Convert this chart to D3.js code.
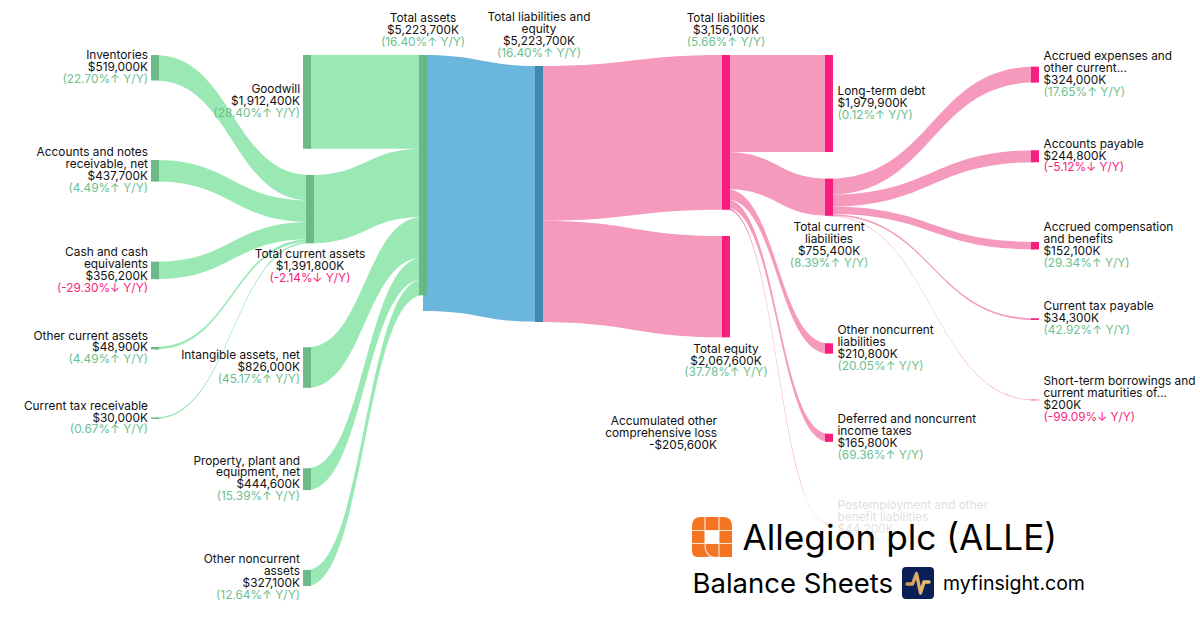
<!DOCTYPE html>
<html>
<head>
<meta charset="utf-8">
<script src="https://cdn.jsdelivr.net/npm/d3@7"></script>
<style>
  html, body { margin: 0; padding: 0; background: #fff; }
  svg { display: block; font-family: Inter, sans-serif; }
</style>
</head>
<body>
<div id="chart"></div>
<script>
// node data, $K, one entry per node ("|" breaks a label line)
const names = [
  "Inventories", "Accounts and notes|receivable, net", "Cash and cash|equivalents", "Other current assets", "Current tax receivable",
  "Goodwill", "Intangible assets, net", "Property, plant and|equipment, net", "Other noncurrent|assets",
  "Total current assets",
  "Total assets",
  "Total liabilities and|equity",
  "Total liabilities", "Total equity", "Accumulated other|comprehensive loss",
  "Long-term debt", "Total current|liabilities", "Other noncurrent|liabilities", "Deferred and noncurrent|income taxes", "Postemployment and other|benefit liabilities",
  "Accrued expenses and|other current...", "Accounts payable", "Accrued compensation|and benefits", "Current tax payable", "Short-term borrowings and|current maturities of..."
];
const values = [
  519000, 437700, 356200, 48900, 30000,
  1912400, 826000, 444600, 327100,
  1391800,
  5223700,
  5223700,
  3156100, 2067600, -205600,
  1979900, 755400, 210800, 165800, 44200,
  324000, 244800, 152100, 34300, 200
];
const changes = [
  22.70, 4.49, -29.30, 4.49, 0.67,
  28.40, 45.17, 15.39, 12.64,
  -2.14,
  16.40,
  16.40,
  5.66, 37.78, null,
  0.12, 8.39, 20.05, 69.36, 13.04,
  17.65, -5.12, 29.34, 42.92, -99.09
];
const columns = [
  "c0", "c0", "c0", "c0", "c0",
  "c1", "c1", "c1", "c1",
  "c1b",
  "c2",
  "c3",
  "c4", "c4", "c4",
  "c5", "c5", "c5", "c5", "c5",
  "c6", "c6", "c6", "c6", "c6"
];
const groups = [
  "g", "g", "g", "g", "g",
  "g", "g", "g", "g",
  "g",
  "g",
  "b",
  "p", "p", "p",
  "p", "p", "p", "p", "p",
  "p", "p", "p", "p", "p"
];
const labelSides = [
  "left", "left", "left", "left", "left",
  "left", "left", "left", "left",
  "bottom",
  "top",
  "top",
  "top", "bottom", "left",
  "right", "bottom", "right", "right", "right",
  "right", "right", "right", "right", "right"
];

// links as node indexes, value is what the ribbon carries
const linkSources = [0, 1, 2, 3, 4, 5, 9, 6, 7, 8, 10, 11, 11, 12, 12, 12, 12, 12, 16, 16, 16, 16, 16];
const linkTargets = [9, 9, 9, 9, 9, 10, 10, 10, 10, 10, 11, 12, 13, 15, 16, 17, 18, 19, 20, 21, 22, 23, 24];
const linkValues = [
  519000, 437700, 356200, 48900, 30000,
  1912400, 1391800, 826000, 444600, 327100,
  5223700,
  3156100, 2067600,
  1979900, 755400, 210800, 165800, 44200,
  324000, 244800, 152100, 34300, 200
];

// layout: column x and free space before each node of a column, px
const columnNames = ["c0", "c1", "c1b", "c2", "c3", "c4", "c5", "c6"];
const columnLefts = [151, 303, 306, 419, 535, 722, 825, 1031];
const columnGaps = {
  c0: [55, 79.6, 80.25, 67.85, 68.1],
  c1: [55, 198.6, 80.5, 79.9],
  c1b: [175],
  c2: [55],
  c3: [66],
  c4: [55, 26.35, 96.7],
  c5: [55, 26.7, 127.6, 80.1, 80.9],
  c6: [66.7, 67.7, 79.7, 68.85, 79.7]
};

const width = 1200;
const height = 630;
const nodeW = 8;
const lineH = 11.95;

const xCol = d3.scaleOrdinal().domain(columnNames).range(columnLefts);
const thickness = d3.scaleLinear().domain([0, 5223700]).range([0, 255.96]);
const fillColor = d3.scaleOrdinal().domain(["g", "b", "p"]).range(["#9ae8b4", "#6ab6dc", "#f59abc"]);
const nodeColor = d3.scaleOrdinal().domain(["g", "b", "p"]).range(["#67b684", "#3b87ad", "#f8157a"]);

// build nodes
const nodes = names.map((name, i) => ({
  i, name, value: values[i], change: changes[i], col: columns[i], group: groups[i], side: labelSides[i]
}));

const links = linkSources.map((s, i) => ({
  source: nodes[s], target: nodes[linkTargets[i]], value: linkValues[i]
}));

nodes.forEach(n => {
  const incoming = links.filter(l => l.target === n);
  n.h = n.value < 0 ? 0 : thickness(incoming.length ? d3.sum(incoming, l => l.value) : n.value);
  n.x = xCol(n.col);
});

// stack each column from its gaps
columnNames.forEach(c => {
  let y = 0;
  nodes.filter(n => n.col === c).forEach((n, k) => {
    y += columnGaps[c][k];
    n.y = y;
    y += n.h;
  });
});

// stack ribbon ends on the nodes
nodes.forEach(n => { n.outY = n.y; n.inY = n.y; });
links.forEach(l => {
  l.h = thickness(l.value);
  l.y0 = l.source.outY;
  l.y1 = l.target.inY;
  l.source.outY += l.h;
  l.target.inY += l.h;
});

function ribbon(l) {
  const x0 = l.source.x + nodeW / 2;
  const x1 = l.target.x + nodeW / 2;
  const xm = (x0 + x1) / 2;
  const h = Math.max(l.h, 0.6);
  const p = d3.path();
  p.moveTo(x0, l.y0);
  p.bezierCurveTo(xm, l.y0, xm, l.y1, x1, l.y1);
  p.lineTo(x1, l.y1 + h);
  p.bezierCurveTo(xm, l.y1 + h, xm, l.y0 + h, x0, l.y0 + h);
  p.closePath();
  return p.toString();
}

const svg = d3.select("#chart").append("svg")
    .attr("width", width)
    .attr("height", height)
    .attr("viewBox", `0 0 ${width} ${height}`);

const defs = svg.append("defs");
const fade = defs.append("linearGradient")
    .attr("id", "fade").attr("x1", 0).attr("x2", 0).attr("y1", 0).attr("y2", 1);
fade.append("stop").attr("offset", 0).attr("stop-color", "#fff").attr("stop-opacity", 0);
fade.append("stop").attr("offset", 0.19).attr("stop-color", "#fff").attr("stop-opacity", 0.85);
fade.append("stop").attr("offset", 0.5).attr("stop-color", "#fff").attr("stop-opacity", 0.88);
fade.append("stop").attr("offset", 1).attr("stop-color", "#fff").attr("stop-opacity", 1);

const gold = defs.append("linearGradient")
    .attr("id", "gold").attr("x1", 0).attr("x2", 1).attr("y1", 0).attr("y2", 0);
gold.append("stop").attr("offset", 0).attr("stop-color", "#c79a5c");
gold.append("stop").attr("offset", 1).attr("stop-color", "#f2c46f");

// ribbons
svg.append("g")
  .selectAll("path")
  .data(links)
  .join("path")
    .attr("d", ribbon)
    .attr("fill", d => fillColor(d.target.group === "b" ? "b" : d.source.group === "b" ? "p" : d.target.group));

// node bars
svg.append("g")
  .selectAll("rect")
  .data(nodes.filter(n => n.value >= 0))
  .join("rect")
    .attr("x", d => d.x)
    .attr("y", d => d.y)
    .attr("width", nodeW)
    .attr("height", d => Math.max(d.h, 0.6))
    .attr("fill", d => nodeColor(d.group))
    .attr("fill-opacity", 0.95);

// labels
const money = d3.format(",");
const fmtValue = v => (v < 0 ? "-$" : "$") + money(Math.abs(v)) + "K";
const fmtChange = c => `(${c.toFixed(2)}%${c >= 0 ? "↑" : "↓"} Y/Y)`;

function labelLines(n) {
  const rows = n.name.split("|").map(t => ({ text: t, fill: "#111" }));
  rows.push({ text: fmtValue(n.value), fill: "#111" });
  if (n.change !== null) rows.push({ text: fmtChange(n.change), fill: n.change >= 0 ? "#6cc08e" : "#f81c7d" });
  return rows;
}

const labels = svg.append("g")
    .attr("font-size", 11.85)
  .selectAll("text")
  .data(nodes)
  .join("text")
    .attr("text-anchor", d => d.side === "left" ? "end" : d.side === "right" ? "start" : "middle")
    .style("white-space", "pre");

labels.each(function (n) {
  const rows = labelLines(n);
  const x = n.side === "left" ? n.x - (n.value < 0 ? 5 : 3) : n.side === "right" ? n.x + nodeW + 4.5 : n.x + nodeW / 2;
  let firstY;
  if (n.side === "top") firstY = n.y - 13 - (rows.length - 1) * lineH;
  else if (n.side === "bottom") firstY = n.y + n.h + 11;
  else firstY = n.y + n.h / 2 - 1 - (rows.length - 1) * lineH / 2;
  d3.select(this).selectAll("tspan")
    .data(rows)
    .join("tspan")
      .attr("x", x)
      .attr("y", (_, k) => firstY + k * lineH)
      .attr("dy", "0.36em")
      .attr("fill", d => d.fill)
      .text(d => d.text);
});

// white wash under the title block
svg.append("rect")
    .attr("x", 680).attr("y", 470)
    .attr("width", 520).attr("height", 160)
    .attr("fill", "url(#fade)");

// company mark
const mark = svg.append("g").attr("transform", "translate(692,517)");
mark.append("path")
    .attr("d", "M9,0 H31 Q40,0 40,9 V40 H27 L20,39.5 L13,40 H6 Q0,40 0,34 V9 Q0,0 9,0 Z")
    .attr("fill", "#f47422");
mark.append("path")
    .attr("d", "M13,0 V28 Q13,37 20,40 M27,0 V40 M0,13.5 H40 M0,26.5 H40")
    .attr("fill", "none")
    .attr("stroke", "#fde3d2")
    .attr("stroke-width", 1.2);
mark.append("rect")
    .attr("x", 13).attr("y", 13.5)
    .attr("width", 14).attr("height", 13)
    .attr("fill", "#fff");

svg.append("text")
    .attr("x", 742.5).attr("y", 550)
    .attr("font-size", 35.2)
    .attr("fill", "#000")
    .text("Allegion plc (ALLE)");

svg.append("text")
    .attr("x", 692.5).attr("y", 593)
    .attr("font-size", 27.5)
    .attr("fill", "#000")
    .text("Balance Sheets");

// site badge
const badge = svg.append("g").attr("transform", "translate(902,567)");
badge.append("rect")
    .attr("width", 32).attr("height", 32).attr("rx", 4)
    .attr("fill", "#0a1f56");
badge.append("path")
    .attr("d", "M5,17 H10.5 L14.5,6.5 L18.5,26 L22,15 H27")
    .attr("fill", "none")
    .attr("stroke", "url(#gold)")
    .attr("stroke-width", 3.4)
    .attr("stroke-linecap", "round")
    .attr("stroke-linejoin", "round");

svg.append("text")
    .attr("x", 943).attr("y", 590)
    .attr("font-size", 19.5)
    .attr("fill", "#000")
    .text("myfinsight.com");
</script>
</body>
</html>
